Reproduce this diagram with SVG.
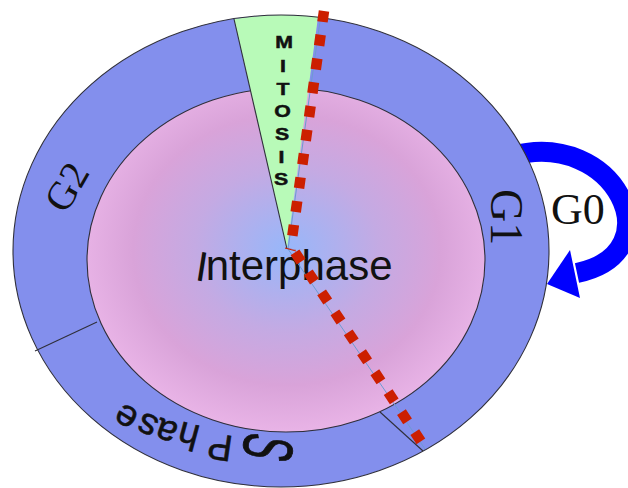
<svg xmlns="http://www.w3.org/2000/svg" width="628" height="488" viewBox="0 0 628 488">
  <defs>
    <radialGradient id="interphaseFill" gradientUnits="userSpaceOnUse" cx="287" cy="250" r="205" gradientTransform="translate(287 250) scale(1 0.88) translate(-287 -250)">
      <stop offset="0" stop-color="#97b7fa"/>
      <stop offset="0.45" stop-color="#c4aae3"/>
      <stop offset="0.75" stop-color="#d9a3d9"/>
      <stop offset="1" stop-color="#e8b3e6"/>
    </radialGradient>
    <style>
      .ring { fill: #838fed; }
      .edge { fill: none; stroke: #2f2f3a; stroke-width: 1.1; }
      .guide { fill: none; stroke: #6c9bd2; stroke-width: 1; }
      .dots { fill: none; stroke: #cc1f00; stroke-width: 10.5; stroke-dasharray: 11 13; }
      .serif { font-family: "Liberation Serif", "Times New Roman", serif; fill: #111; }
      .sans { font-family: "Liberation Sans", Arial, sans-serif; fill: #111; }
    </style>
  </defs>

  <!-- G0 loop arrow (drawn beneath the ring so it appears to leave its edge) -->
  <g id="g0-arrow">
    <path d="M512,156 C614,128 676,252 577,273" fill="none" stroke="#0000ff" stroke-width="20"/>
    <polygon points="570,250 547,284 580,298" fill="#0000ff"/>
  </g>

  <!-- outer cycle ring -->
  <g id="ring">
    <ellipse class="ring" cx="281" cy="251" rx="268" ry="236"/>
  </g>

  <!-- interphase disc -->
  <g id="interphase">
    <ellipse cx="286" cy="260" rx="199" ry="172" fill="url(#interphaseFill)" stroke="#2f2f3a" stroke-width="1.1"/>
  </g>

  <!-- mitosis wedge -->
  <g id="mitosis">
    <path d="M287,249 L234,19 A268,236 0 0,1 318,17 Z" fill="#b8fab8"/>
    <line class="edge" x1="287" y1="249" x2="234" y2="19"/>
    <text class="sans" font-size="17" font-weight="bold" text-anchor="middle" stroke="#111" stroke-width="0.5"
          transform="translate(284,0) scale(1.25,1)"
          x="0 -0.8 -0.8 -1.2 -1.6 -2 -2.4" y="48 72 95 117 140 163 185">MITOSIS</text>
  </g>

  <!-- outline of the ring and phase boundaries -->
  <g id="boundaries">
    <ellipse class="edge" cx="281" cy="251" rx="268" ry="236"/>
    <line class="edge" x1="380" y1="412" x2="423" y2="451"/>
    <line class="edge" x1="97" y1="322" x2="35" y2="351"/>
  </g>

  <!-- phase labels -->
  <g id="label-g1">
    <text class="serif" font-size="46" transform="translate(491,189) rotate(90)" x="0" y="0">G1</text>
  </g>
  <g id="label-g2">
    <text class="serif" font-size="40" text-anchor="middle" transform="translate(67,187) rotate(-60)" x="0" y="13">G2</text>
  </g>
  <g id="label-g0">
    <text class="serif" font-size="44" x="551" y="224">G0</text>
  </g>
  <g id="label-s">
    <text class="sans" font-size="33" text-anchor="middle" stroke="#111" stroke-width="0.4"
          transform="translate(269,448) rotate(102) scale(1.15,2.15)" x="0" y="11.8">S</text>
    <text class="sans" font-size="37" stroke="#111" stroke-width="0.6"
          x="234 201.5 179.7 160.4 140.5" y="436.6 426.6 424.5 419.2 413"
          rotate="188 195 200 205 212">Phase</text>
  </g>
  <g id="label-interphase">
    <text class="sans" font-size="42" x="194" y="280" rotate="9 0">Interphase</text>
  </g>

  <!-- connectors: checkpoint guides and dotted markers -->
  <g id="connectors">
    <line class="guide" x1="288" y1="249" x2="321" y2="14"/>
    <line class="guide" x1="288" y1="249" x2="425" y2="449"/>
    <line x1="285" y1="248" x2="296" y2="251" stroke="#cc1f00" stroke-width="1"/>
    <line class="dots" x1="324" y1="11" x2="290.5" y2="249"/>
    <line class="dots" x1="295" y1="252.4" x2="421" y2="441.5"/>
  </g>
</svg>
